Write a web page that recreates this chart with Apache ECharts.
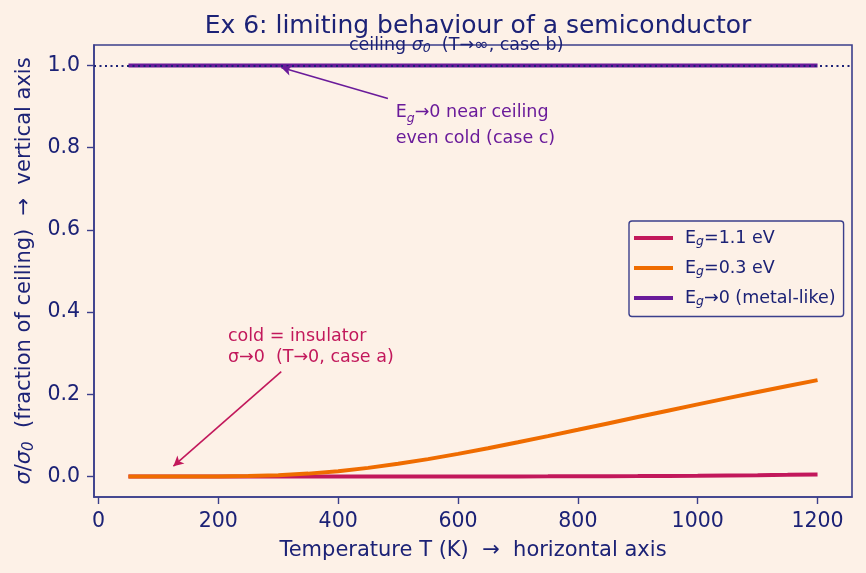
<!DOCTYPE html>
<html><head><meta charset="utf-8">
<script src="https://cdn.jsdelivr.net/npm/echarts@6/dist/echarts.min.js"></script>
<style>html,body{margin:0;padding:0;background:#fdf1e7;}#c{width:866px;height:573px;}</style>
</head><body><div id="c"></div>
<script>
// ---- data ----
const temps = [50,100,150,200,250,300,350,400,450,500,550,600,650,700,750,800,850,900,950,1000,1050,1100,1150,1200];
const sigEg11 = [0,0,0,0,0,0,0,0,0,0.000003,0.000009,0.000024,0.000055,0.00011,0.0002,0.00034,0.00055,0.00083,0.0012,0.0017,0.0023,0.0030,0.0039,0.0049];
const sigEg03 = [0,0,0.00001,0.00017,0.00095,0.0030,0.0069,0.0129,0.0209,0.0308,0.0422,0.0550,0.0687,0.0832,0.0982,0.1135,0.129,0.1445,0.160,0.1754,0.1906,0.2055,0.2201,0.2345];
const sigMetal = [1,1,1,1,1,1,1,1,1,1,1,1,1,1,1,1,1,1,1,1,1,1,1,1];
const xTicks = [0,200,400,600,800,1000,1200];
const yTicks = [0,0.2,0.4,0.6,0.8,1.0];
const ceiling = 1.0;

const NAVY = '#1c2276', SPINE = '#3b3f8c', BG = '#fdf1e7';
const C11 = '#c2185b', C03 = '#ef6c00', CM = '#6a1b9a';
const FONT = 'DejaVu Sans';
const FS_T = 25, FS_L = 21, FS_K = 20.5, FS_S = 17.5;

const chart = echarts.init(document.getElementById('c'));
const pair = (ys) => temps.map((t, i) => [t, ys[i]]);
const legRich = {n:{fontFamily:FONT,fontSize:FS_S,color:NAVY}, s:{fontFamily:FONT,fontSize:12.5,color:NAVY,fontStyle:'italic',verticalAlign:'bottom',padding:[8,0,0,0]}};

chart.setOption({
  backgroundColor: BG,
  animation: false,
  textStyle: {fontFamily: FONT},
  title: {text: 'Ex 6: limiting behaviour of a semiconductor', left: 473, textAlign: 'center', top: 9,
    textStyle: {fontFamily: FONT, fontSize: FS_T, fontWeight: 'normal', color: NAVY}},
  grid: {left: 94, right: 14, top: 45, bottom: 76, show: true, borderColor: SPINE, borderWidth: 1.6, backgroundColor: 'transparent'},
  legend: {
    orient: 'vertical', left: 629, top: 221,
    padding: [8, 8, 8, 5], itemGap: 10.5, itemWidth: 39, itemHeight: 4, icon: 'rect',
    backgroundColor: BG, borderColor: SPINE, borderWidth: 1.4, borderRadius: 3,
    textStyle: {fontFamily: FONT, fontSize: FS_S, color: NAVY, padding: [0,0,0,7], rich: legRich},
    data: ['Eg=1.1 eV', 'Eg=0.3 eV', 'Eg→0 (metal-like)'],
    formatter: (n) => '{n|E}{s|g}{n|' + n.slice(2) + '}'
  },
  xAxis: {
    type: 'value', min: -7.5, max: 1257.5,
    name: 'Temperature T (K)  →  horizontal axis', nameLocation: 'middle', nameGap: 43,
    nameTextStyle: {fontFamily: FONT, fontSize: FS_L, color: NAVY},
    axisLine: {show: true, onZero: false, lineStyle: {color: SPINE, width: 1.6}},
    axisTick: {show: true, inside: false, length: 7, lineStyle: {color: SPINE, width: 1.4}, customValues: xTicks},
    axisLabel: {fontFamily: FONT, fontSize: FS_K, color: NAVY, margin: 14, customValues: xTicks, formatter: (v) => String(v)},
    splitLine: {show: false}
  },
  yAxis: {
    type: 'value', min: -0.05, max: 1.05,
    name: '{i|σ}/{i|σ}{sub|0}  (fraction of ceiling)  →  vertical axis', nameLocation: 'middle', nameGap: 50, nameRotate: 90,
    nameTextStyle: {fontFamily: FONT, fontSize: FS_L, color: NAVY,
      rich: {i:{fontFamily:FONT,fontSize:FS_L,fontStyle:'italic',color:NAVY}, sub:{fontFamily:FONT,fontSize:15,fontStyle:'italic',color:NAVY,verticalAlign:'bottom',padding:[9,0,0,0]}}},
    axisLine: {show: true, onZero: false, lineStyle: {color: SPINE, width: 1.6}},
    axisTick: {show: true, inside: false, length: 7, lineStyle: {color: SPINE, width: 1.4}, customValues: yTicks},
    axisLabel: {fontFamily: FONT, fontSize: FS_K, color: NAVY, margin: 14, customValues: yTicks, formatter: (v) => v.toFixed(1)},
    splitLine: {show: false}
  },
  series: [
    {name: 'Eg=1.1 eV', type: 'line', data: pair(sigEg11), showSymbol: false, lineStyle: {color: C11, width: 4}, itemStyle: {color: C11}, z: 2,
      markLine: {silent: true, symbol: ['none', 'arrow'], symbolSize: [8, 10], label: {show: false},
        lineStyle: {color: C11, width: 1.6, type: 'solid'},
        data: [[{coord: [305, 0.255]}, {coord: [125, 0.025]}]]}},
    {name: 'Eg=0.3 eV', type: 'line', data: pair(sigEg03), showSymbol: false, lineStyle: {color: C03, width: 4}, itemStyle: {color: C03}, z: 3},
    {name: 'Eg→0 (metal-like)', type: 'line', data: pair(sigMetal), showSymbol: false, lineStyle: {color: CM, width: 4}, itemStyle: {color: CM}, z: 4,
      markLine: {silent: true, symbol: ['none', 'none'], label: {show: false}, z: 5,
        lineStyle: {color: NAVY, width: 1.8, type: [2, 3.5]},
        data: [{yAxis: ceiling}]}},
    {name: 'arrowc', type: 'line', data: [], z: 5,
      markLine: {silent: true, symbol: ['none', 'arrow'], symbolSize: [8, 10], label: {show: false},
        lineStyle: {color: CM, width: 1.6, type: 'solid'},
        data: [[{coord: [483, 0.92]}, {coord: [305, 0.995]}]]}}
  ]
});

function px(x, y) { return chart.convertToPixel({gridIndex: 0}, [x, y]); }
const pb = px(597, 1.05), pc = px(496, 0.855), pa = px(216, 0.316);
chart.setOption({
  graphic: [
    {type: 'text', x: pb[0], y: pb[1], z: 10, style: {text: '{n|ceiling }{i|σ}{sub|0}{n|  (T→∞, case b)}', align: 'center', verticalAlign: 'middle', fill: NAVY,
      rich: {n:{fontFamily:FONT,fontSize:FS_S,fill:NAVY}, i:{fontFamily:FONT,fontSize:FS_S,fontStyle:'italic',fill:NAVY}, sub:{fontFamily:FONT,fontSize:12.5,fontStyle:'italic',fill:NAVY,verticalAlign:'bottom',padding:[8,0,0,0]}}}},
    {type: 'text', x: pc[0], y: pc[1], z: 10, style: {text: '{n|E}{s|g}{n|→0 near ceiling}\n{n|even cold (case c)}', align: 'left', verticalAlign: 'middle', fill: CM,
      rich: {n:{fontFamily:FONT,fontSize:FS_S,fill:CM,lineHeight:26}, s:{fontFamily:FONT,fontSize:12.5,fontStyle:'italic',fill:CM,verticalAlign:'bottom',padding:[8,0,0,0],lineHeight:26}}}},
    {type: 'text', x: pa[0], y: pa[1], z: 10, style: {text: 'cold = insulator\nσ→0  (T→0, case a)', align: 'left', verticalAlign: 'middle', lineHeight: 21,
      font: FS_S + 'px "DejaVu Sans"', fill: C11}}
  ]
});
</script></body></html>
